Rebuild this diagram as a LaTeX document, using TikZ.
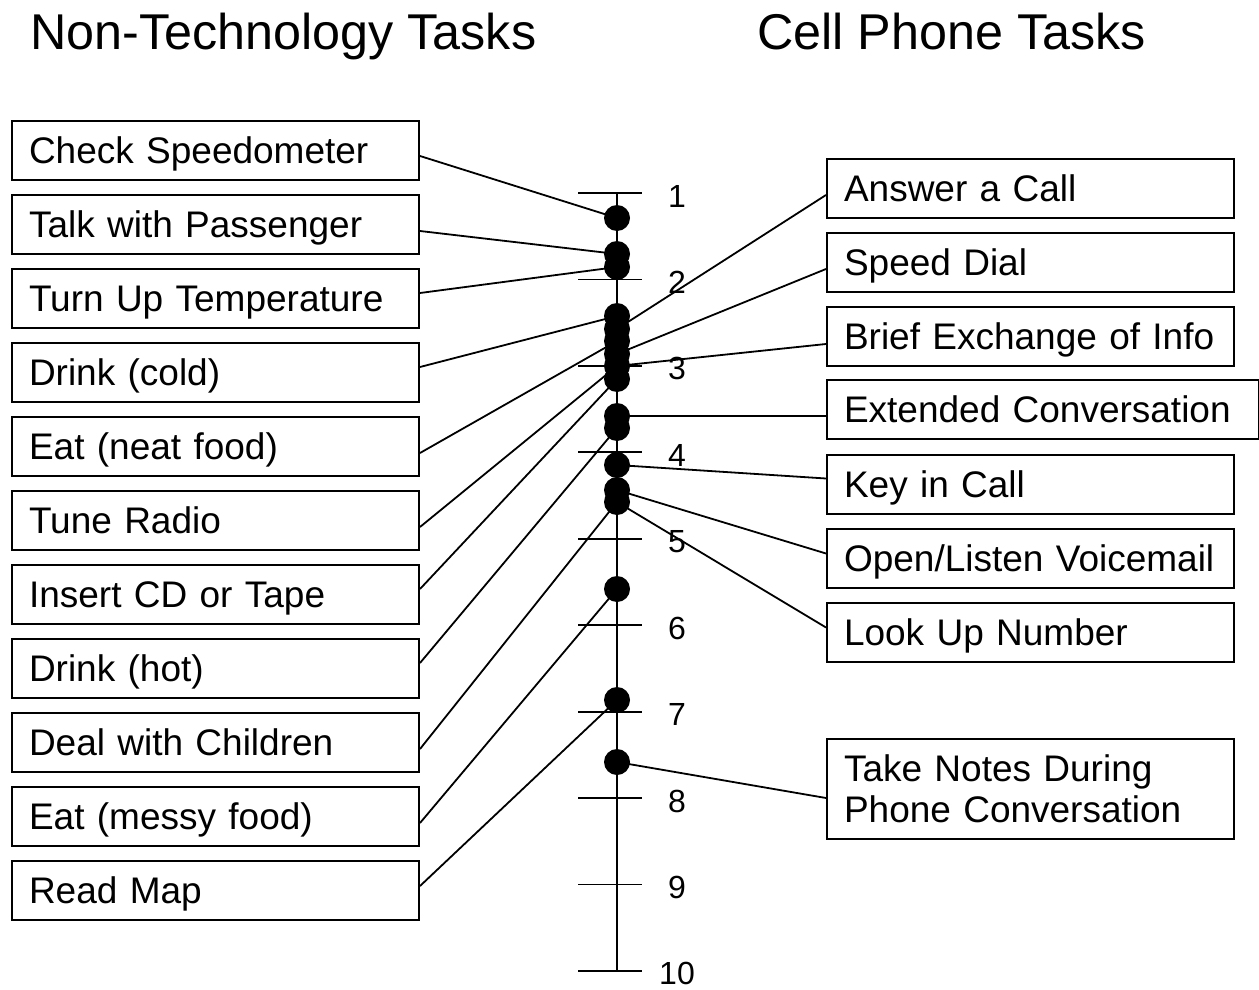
\documentclass[tikz,border=0pt]{standalone}
\usepackage{fontspec}
\setmainfont{Liberation Sans}
\begin{document}
\begin{tikzpicture}[x=1pt,y=-1pt,
  task/.style={draw=black, line width=2pt, minimum height=59pt, inner xsep=17pt, inner ysep=0pt,
    text width=373pt, align=left, text height=33.5pt, text depth=7.8pt,
    font=\fontsize{37}{41}\selectfont, anchor=north west},
  dot/.style={circle, fill=black, minimum size=26pt, inner sep=0pt},
  conn/.style={line width=1.8pt},
  axisline/.style={line width=1.8pt},
  ticklab/.style={font=\fontsize{32}{38}\selectfont, anchor=base, inner sep=0pt},
  ttl/.style={font=\fontsize{50.3}{60}\selectfont, anchor=base west, inner sep=0pt}]
\useasboundingbox (0,0) rectangle (1259,990);
\clip (0,0) rectangle (1259,990);

% titles
\node[ttl] (ttlL) at (30,50) {Non-Technology Tasks};
\node[ttl] (ttlR) at (757,50) {Cell Phone Tasks};

% left boxes
\node[task] (cs) at (11,120) {Check Speedometer};
\node[task] (tp) at (11,194) {Talk with Passenger};
\node[task] (tu) at (11,268) {Turn Up Temperature};
\node[task] (dc) at (11,342) {Drink (cold)};
\node[task] (en) at (11,416) {Eat (neat food)};
\node[task] (tr) at (11,490) {Tune Radio};
\node[task] (ic) at (11,564) {Insert CD or Tape};
\node[task] (dh) at (11,638) {Drink (hot)};
\node[task] (dw) at (11,712) {Deal with Children};
\node[task] (em) at (11,786) {Eat (messy food)};
\node[task] (rm) at (11,860) {Read Map};

% right boxes
\node[task] (ac) at (826,158) {Answer a Call};
\node[task] (sd) at (826,232) {Speed Dial};
\node[task] (be) at (826,306) {Brief Exchange of Info};
\node[task, text width=398pt] (ec) at (826,379) {Extended Conversation};
\node[task] (kc) at (826,454) {Key in Call};
\node[task] (ol) at (826,528) {Open/Listen Voicemail};
\node[task] (lu) at (826,602) {Look Up Number};
\node[task, minimum height=100pt, text depth=49.5pt] (tn) at (826,738) {Take Notes During\\Phone Conversation};

% axis with ticks
\foreach \i in {1,...,10} {
  \coordinate (t\i) at (617,{193+86.44*(\i-1)});
  \draw[axisline] ([xshift=-39pt]t\i) -- ([xshift=25pt]t\i);
  \node[ticklab] (l\i) at (677,{207+86.44*(\i-1)}) {\i};
}
\draw[axisline] (t1) -- (t10);

% dots
\node[dot] (d1) at (617,218) {};
\node[dot] (d2) at (617,254) {};
\node[dot] (d3) at (617,267) {};
\node[dot] (d4) at (617,316) {};
\node[dot] (d5) at (617,329) {};
\node[dot] (d6) at (617,341) {};
\node[dot] (d7) at (617,354) {};
\node[dot] (d8) at (617,366) {};
\node[dot] (d9) at (617,379) {};
\node[dot] (d10) at (617,416) {};
\node[dot] (d11) at (617,428) {};
\node[dot] (d12) at (617,465) {};
\node[dot] (d13) at (617,490) {};
\node[dot] (d14) at (617,502) {};
\node[dot] (d15) at (617,589) {};
\node[dot] (d16) at (617,700) {};
\node[dot] (d17) at (617,762) {};

% left connectors
\draw[conn] ([yshift=-5.5pt]cs.east) -- (d1.center);
\draw[conn] ([yshift=-6.5pt]tp.east) -- (d2.center);
\draw[conn] ([yshift=5.5pt]tu.east) -- (d3.center);
\draw[conn] ([yshift=5.5pt]dc.east) -- (d4.center);
\draw[conn] ([yshift=-6.5pt]en.east) -- (d6.center);
\draw[conn] ([yshift=-6.5pt]tr.east) -- (d8.center);
\draw[conn] ([yshift=5.5pt]ic.east) -- (d9.center);
\draw[conn] ([yshift=5.5pt]dh.east) -- (d11.center);
\draw[conn] ([yshift=-6.5pt]dw.east) -- (d14.center);
\draw[conn] ([yshift=-6.5pt]em.east) -- (d15.center);
\draw[conn] ([yshift=4.5pt]rm.east) -- (d16.center);

% right connectors
\draw[conn] ([yshift=-6.5pt]ac.west) -- (d5.center);
\draw[conn] ([yshift=-6.5pt]sd.west) -- (d7.center);
\draw[conn] ([yshift=-7.5pt]be.west) -- (d8.center);
\draw[conn] ([yshift=-6.5pt]ec.west) -- (d10.center);
\draw[conn] ([yshift=6pt]kc.west) -- (d12.center);
\draw[conn] ([yshift=5pt]ol.west) -- (d13.center);
\draw[conn] ([yshift=5pt]lu.west) -- (d14.center);
\draw[conn] ([yshift=-9pt]tn.west) -- (d17.center);
\end{tikzpicture}
\end{document}
